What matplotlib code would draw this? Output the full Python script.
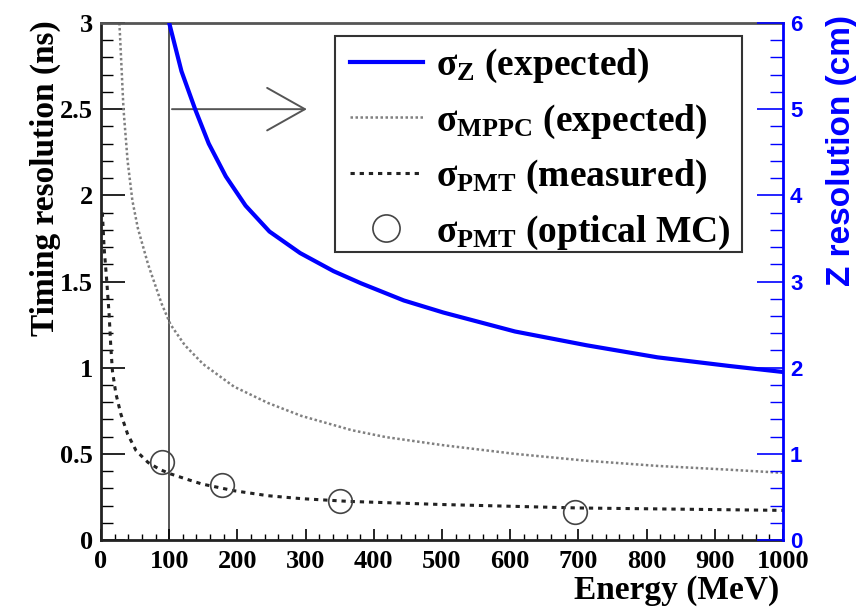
import numpy as np
import matplotlib
matplotlib.use('Agg')
import matplotlib.pyplot as plt
from matplotlib.ticker import MultipleLocator
from matplotlib.patches import Rectangle

plt.rcParams['font.family'] = 'Liberation Serif'
plt.rcParams['font.weight'] = 'bold'
plt.rcParams['mathtext.fontset'] = 'custom'
plt.rcParams['mathtext.rm'] = 'Liberation Serif:bold'
plt.rcParams['mathtext.it'] = 'Liberation Serif:bold'
plt.rcParams['mathtext.bf'] = 'Liberation Serif:bold'

# sigma_Z (expected), cm on the right axis
z_energy = [100, 118, 138, 158, 183, 212, 247, 292, 341, 381, 444, 502, 607, 712, 816, 921, 1000]
z_res = [6.0, 5.44, 5.0, 4.60, 4.22, 3.88, 3.58, 3.33, 3.12, 2.98, 2.78, 2.64, 2.42, 2.26,
         2.12, 2.02, 1.95]

# sigma_MPPC (expected), ns
mppc_energy = [27, 30, 33, 39, 46, 54, 69, 89, 102, 123, 150, 195, 245, 294, 368, 418,
               502, 607, 712, 816, 921, 1000]
mppc_res = [3.0, 2.75, 2.5, 2.2, 1.97, 1.81, 1.60, 1.37, 1.25, 1.13, 1.02, 0.89, 0.795,
            0.72, 0.637, 0.597, 0.55, 0.50, 0.46, 0.43, 0.408, 0.39]

# sigma_PMT (measured), ns
pmt_energy = [2, 4.5, 8.4, 11.9, 14.4, 16.8, 21.8, 29.2, 39, 51.5, 69, 86, 101, 128, 148,
              195, 245, 294, 364, 500, 700, 1000]
pmt_res = [1.9, 1.7, 1.505, 1.31, 1.12, 0.98, 0.85, 0.73, 0.615, 0.518, 0.45, 0.41, 0.385,
           0.35, 0.325, 0.286, 0.257, 0.24, 0.224, 0.206, 0.186, 0.172]

# sigma_PMT (optical MC), ns
mc_energy = [89, 178, 350, 695]
mc_res = [0.45, 0.32, 0.224, 0.16]

fig = plt.figure(figsize=(8.61, 6.08), dpi=100)
ax = fig.add_axes([0.1173, 0.1118, 0.7921, 0.8504])
ax2 = ax.twinx()

ax.set_xlim(0, 1000)
ax.set_ylim(0, 3)
ax2.set_ylim(0, 6)

# marker line at 100 MeV and arrow
ax.plot([100, 100], [0, 3], color='#555555', lw=1.4, zorder=1)
ax.annotate('', xy=(306, 2.5), xytext=(100, 2.5),
            arrowprops=dict(arrowstyle='->,head_length=0.8,head_width=0.45',
                            color='#555555', lw=1.4, mutation_scale=34))

l_mppc, = ax.plot(mppc_energy, mppc_res, color='#808080', lw=1.8, ls=(0, (1, 1)))
l_pmt, = ax.plot(pmt_energy, pmt_res, color='#222222', lw=2.2, ls=(0, (1.4, 1.6)))
l_mc, = ax.plot(mc_energy, mc_res, ls='none', marker='o', ms=17, mfc='none',
                mec='#444444', mew=1.2)
l_z, = ax2.plot(z_energy, z_res, color='#0000ff', lw=3.0)

# left / bottom axes (ROOT style)
ax.xaxis.set_major_locator(MultipleLocator(100))
ax.xaxis.set_minor_locator(MultipleLocator(20))
ax.yaxis.set_major_locator(MultipleLocator(0.5))
ax.yaxis.set_minor_locator(MultipleLocator(0.1))
ax.tick_params(axis='x', which='major', direction='in', length=8, width=1.2, pad=7,
               labelsize=19, top=False)
ax.tick_params(axis='x', which='minor', direction='in', length=4.3, width=1.0, top=False)
ax.tick_params(axis='y', which='major', direction='in', length=17, width=1.2, pad=6,
               labelsize=19, right=False)
ax.tick_params(axis='y', which='minor', direction='in', length=8.6, width=1.0, right=False)
ax.set_xticks(np.arange(0, 1001, 100))
ax.set_xticklabels([str(v) for v in range(0, 1001, 100)])
ax.set_yticks([0, 0.5, 1, 1.5, 2, 2.5, 3])
ax.set_yticklabels(['0', '0.5', '1', '1.5', '2', '2.5', '3'])

for s in ['left', 'bottom']:
    ax.spines[s].set_linewidth(2)
    ax.spines[s].set_color('#222222')
ax.spines['top'].set_linewidth(2)
ax.spines['top'].set_color('#555555')
ax.spines['right'].set_visible(False)

ax.set_ylabel('Timing resolution (ns)', fontsize=24, fontweight='bold')
ax.yaxis.set_label_coords(-0.058, 1.006)
ax.yaxis.label.set_horizontalalignment('right')
ax.set_xlabel('Energy (MeV)', fontsize=24, fontweight='bold')
ax.xaxis.set_label_coords(0.995, -0.068)
ax.xaxis.label.set_horizontalalignment('right')

# right axis (blue)
ax2.yaxis.set_major_locator(MultipleLocator(1))
ax2.yaxis.set_minor_locator(MultipleLocator(0.2))
ax2.tick_params(axis='y', which='major', direction='in', length=19, width=1.2, pad=5,
                labelsize=16, colors='#0000ff')
ax2.tick_params(axis='y', which='minor', direction='in', length=9.5, width=1.0,
                colors='#0000ff')
for lab in ax2.get_yticklabels():
    lab.set_family('Liberation Sans')
    lab.set_weight('bold')
for s in ['left', 'bottom', 'top']:
    ax2.spines[s].set_visible(False)
ax2.spines['right'].set_color('#0000ff')
ax2.spines['right'].set_linewidth(2)
ax2.set_ylabel('Z resolution (cm)', fontsize=24, fontweight='bold', color='#0000ff',
               family='Liberation Sans')
ax2.yaxis.set_label_coords(1.063, 1.015)
ax2.yaxis.label.set_horizontalalignment('right')

# legend box drawn separately, entries placed inside it
ax2.add_patch(Rectangle((0.343, 0.557), 0.597, 0.418, transform=ax2.transAxes,
                        facecolor='white', edgecolor='#333333', lw=1.5, zorder=4))
leg = ax2.legend([l_z, l_mppc, l_pmt, l_mc],
                 ['σ$_{\\mathrm{Z}}$ (expected)', 'σ$_{\\mathrm{MPPC}}$ (expected)',
                  'σ$_{\\mathrm{PMT}}$ (measured)', 'σ$_{\\mathrm{PMT}}$ (optical MC)'],
                 loc='upper left', bbox_to_anchor=(0.365, 0.954), borderaxespad=0,
                 fontsize=27, frameon=False, handlelength=1.95,
                 handletextpad=0.35, labelspacing=0.46, borderpad=0, markerscale=1.15)
leg.set_zorder(5)

fig.savefig('out.png', dpi=100)
